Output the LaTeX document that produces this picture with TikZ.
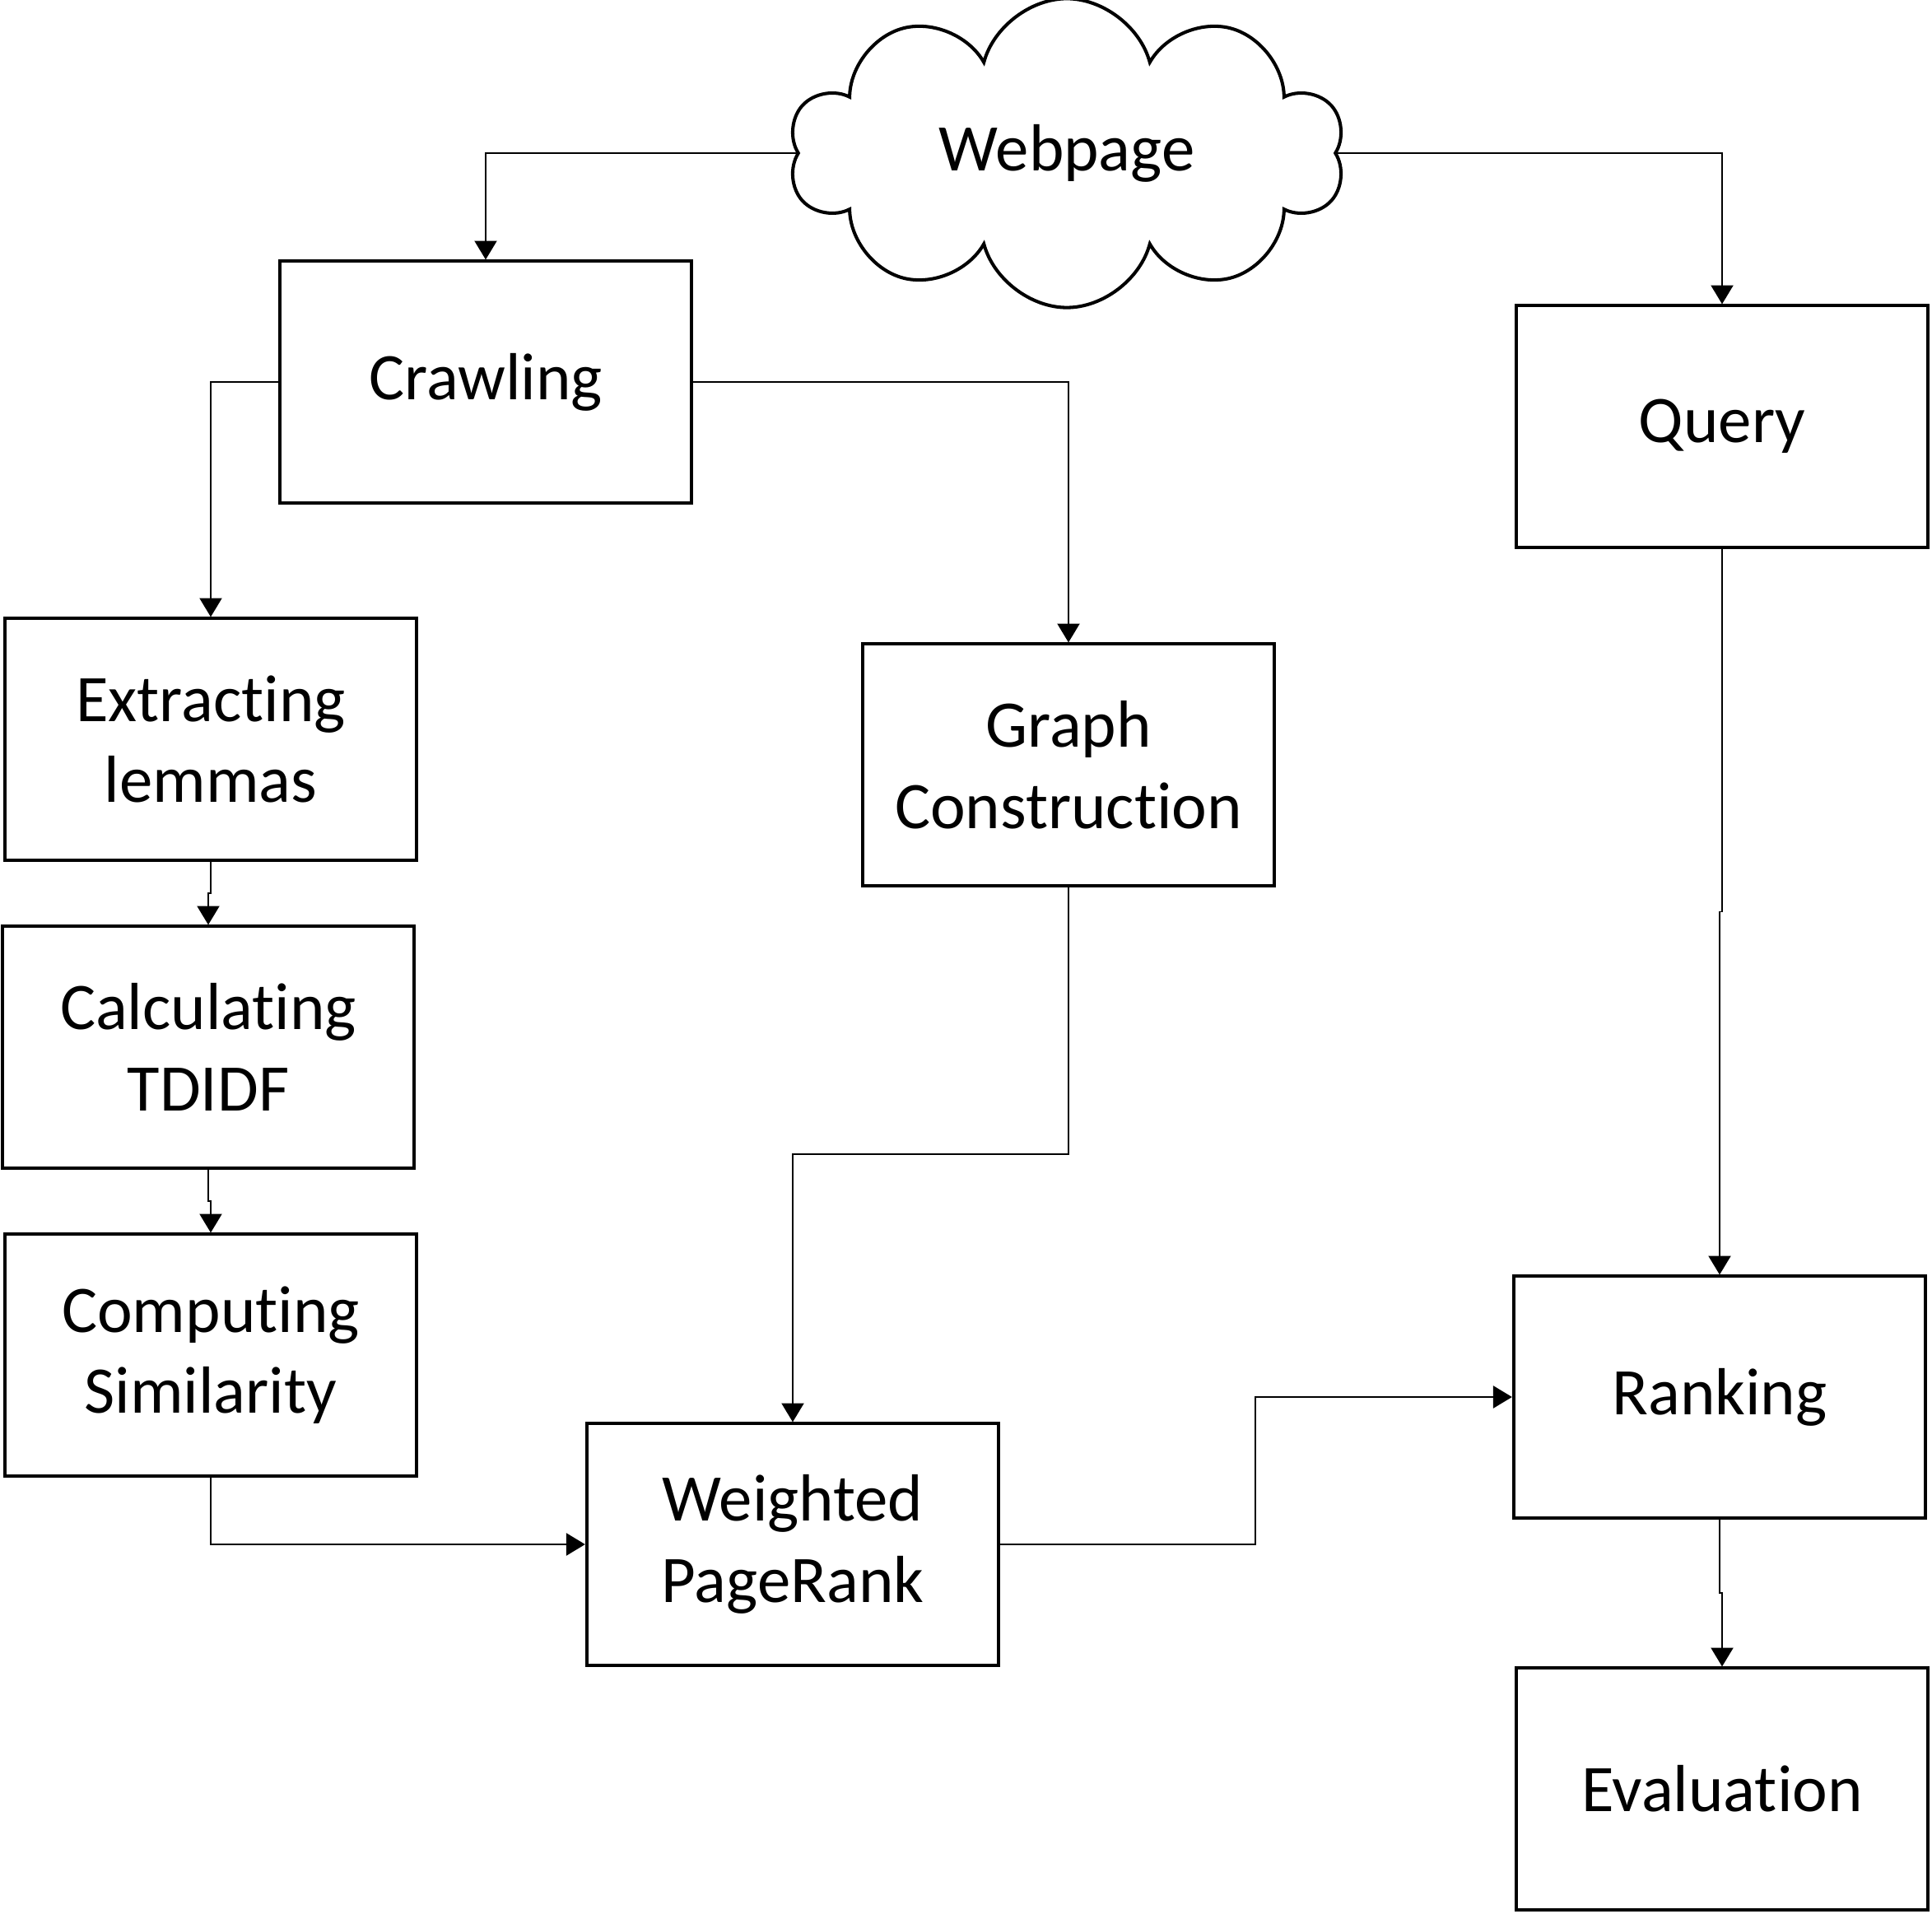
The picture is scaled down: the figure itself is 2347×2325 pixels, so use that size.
\documentclass[tikz,border=0pt]{standalone}
\usepackage{fontspec}
\setmainfont{Carlito}[RawFeature={-liga;-clig;-calt;-dlig}]
\usetikzlibrary{arrows.meta,shapes.symbols,calc}
\newcommand\boxtextstyle{\fontsize{23}{28}\selectfont}
\newcommand\boxlinewidth{1.15pt}
\tikzset{
  procbox/.style={draw, line width=\boxlinewidth, minimum width=5cm, minimum height=2.93cm, align=center, font=\boxtextstyle},
  flowline/.style={line width=0.55pt, -{Triangle[length=6.5pt,width=7.7pt]}},
  webcloud/.style={cloud, draw, line width=\boxlinewidth, cloud puffs=10, aspect=1.85, minimum width=6.75cm, minimum height=3.75cm, font=\boxtextstyle},
}
\begin{document}
\begin{tikzpicture}[x=0.01cm, y=-0.01cm]
    \useasboundingbox (0,0) rectangle (2347,2325);
    \node[webcloud] (web) at (1296,186) {Webpage};
    \node[procbox] (crawl) at (590,464) {Crawling};
    \node[procbox] (query) at (2092,518) {Query};
    \node[procbox] (extract) at (256,898) {Extracting\\lemmas};
    \node[procbox] (graph) at (1298,929) {Graph\\Construction};
    \node[procbox] (tfidf) at (253,1272) {Calculating\\TDIDF};
    \node[procbox] (simil) at (256,1646) {Computing\\Similarity};
    \node[procbox] (wpr) at (963,1876) {Weighted\\PageRank};
    \node[procbox] (rank) at (2089,1697) {Ranking};
    \node[procbox] (eval) at (2092,2173) {Evaluation};
    \draw[flowline] (web.west) -| (crawl.north);
    \draw[flowline] (web.east) -| (query.north);
    \draw[flowline] (crawl.west) -| (extract.north);
    \draw[flowline] (crawl.east) -| (graph.north);
    \draw[flowline] (extract.south) |- ($(extract.south)!.5!(tfidf.north)$) -| (tfidf.north);
    \draw[flowline] (tfidf.south) |- ($(tfidf.south)!.5!(simil.north)$) -| (simil.north);
    \draw[flowline] (graph.south) -- ++(0,324) -| (wpr.north);
    \draw[flowline] (simil.south) |- (wpr.west);
    \draw[flowline] (wpr.east) -- ++(310,0) |- (rank.west);
    \draw[flowline] (query.south) |- ($(query.south)!.5!(rank.north)$) -| (rank.north);
    \draw[flowline] (rank.south) |- ($(rank.south)!.5!(eval.north)$) -| (eval.north);
\end{tikzpicture}
\end{document}
